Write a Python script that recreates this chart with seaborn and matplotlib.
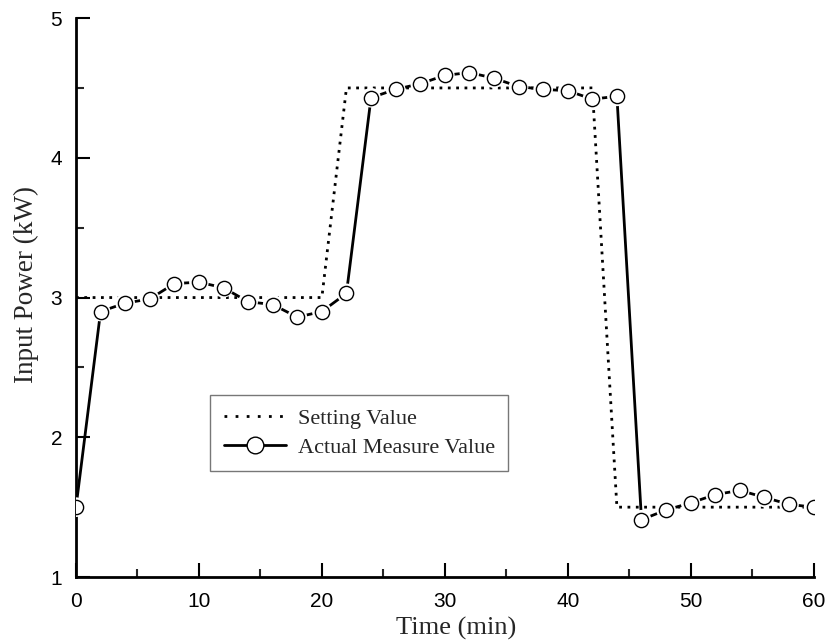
import matplotlib
matplotlib.use("Agg")
import matplotlib.pyplot as plt
import seaborn as sns
import pandas as pd
from matplotlib.ticker import MultipleLocator
from matplotlib.lines import Line2D

# Data
set_time = [0, 20, 22, 42, 44, 60]
set_power = [3.0, 3.0, 4.5, 4.5, 1.5, 1.5]

act_time = [0, 2, 4, 6, 8, 10, 12, 14, 16, 18, 20, 22, 24, 26, 28, 30,
            32, 34, 36, 38, 40, 42, 44, 46, 48, 50, 52, 54, 56, 58, 60]
act_power = [1.50, 2.90, 2.96, 2.99, 3.10, 3.11, 3.07, 2.97, 2.95, 2.86, 2.90,
             3.03, 4.43, 4.49, 4.53, 4.59, 4.61, 4.57, 4.51, 4.49, 4.48, 4.42,
             4.44, 1.41, 1.48, 1.53, 1.59, 1.62, 1.57, 1.52, 1.50]

x_ticks = [0, 10, 20, 30, 40, 50, 60]
y_ticks = [1, 2, 3, 4, 5]

sns.set_style("ticks")
plt.rcParams['font.family'] = ['Liberation Sans', 'DejaVu Sans']

fig = plt.figure(figsize=(8.26, 6.41), dpi=100)
ax = fig.add_axes([0.092, 0.0998, 0.893, 0.872])

df_set = pd.DataFrame({"t": set_time, "p": set_power})
df_act = pd.DataFrame({"t": act_time, "p": act_power})

sns.lineplot(data=df_set, x="t", y="p", ax=ax, color="black", linewidth=2,
             linestyle=(0, (1, 2)), sort=False, zorder=2)
# connecting line
sns.lineplot(data=df_act, x="t", y="p", ax=ax, color="black", linewidth=2,
             sort=False, zorder=3)
# white halo around markers (creates small gaps)
sns.scatterplot(data=df_act, x="t", y="p", ax=ax, color="white", s=200,
                edgecolor="none", linewidth=0, zorder=4)
# open circle markers
sns.scatterplot(data=df_act, x="t", y="p", ax=ax, color="white", s=105,
                edgecolor="black", linewidth=1.0, zorder=5)

ax.set_xlim(0, 60)
ax.set_ylim(1, 5)
ax.set_xticks(x_ticks)
ax.set_yticks(y_ticks)
ax.xaxis.set_minor_locator(MultipleLocator(5))
ax.yaxis.set_minor_locator(MultipleLocator(0.5))
ax.tick_params(axis="both", which="major", direction="in", length=10, width=1.5,
               labelsize=15, colors="black")
ax.tick_params(axis="x", which="major", pad=11)
ax.tick_params(axis="y", which="major", pad=10)
ax.tick_params(axis="both", which="minor", direction="in", length=6, width=1.5)

for s in ["top", "right"]:
    ax.spines[s].set_visible(False)
for s in ["left", "bottom"]:
    ax.spines[s].set_linewidth(2)
    ax.spines[s].set_color("black")

ax.set_xlabel("Time (min)", family=["Liberation Serif"], fontsize=19, labelpad=4,
              x=0.515)
ax.set_ylabel("Input Power (kW)", family=["Liberation Serif"], fontsize=19.5,
              labelpad=8, y=0.524)

handles = [
    Line2D([], [], color="black", linewidth=2, linestyle=(0, (1, 3))),
    Line2D([], [], color="black", linewidth=2, marker="o", markersize=12,
           markerfacecolor="white", markeredgecolor="black", markeredgewidth=1.0),
]
leg = ax.legend(handles=handles, labels=["Setting Value", "Actual Measure Value"],
                loc="upper left", bbox_to_anchor=(0.182, 0.326),
                prop={"family": "Liberation Serif", "size": 16},
                frameon=True, fancybox=False, edgecolor="#555555",
                handlelength=2.8, handletextpad=0.55, borderpad=0.6,
                labelspacing=0.4, borderaxespad=0)
leg.get_frame().set_linewidth(1.0)

fig.savefig("out.png", dpi=100)
